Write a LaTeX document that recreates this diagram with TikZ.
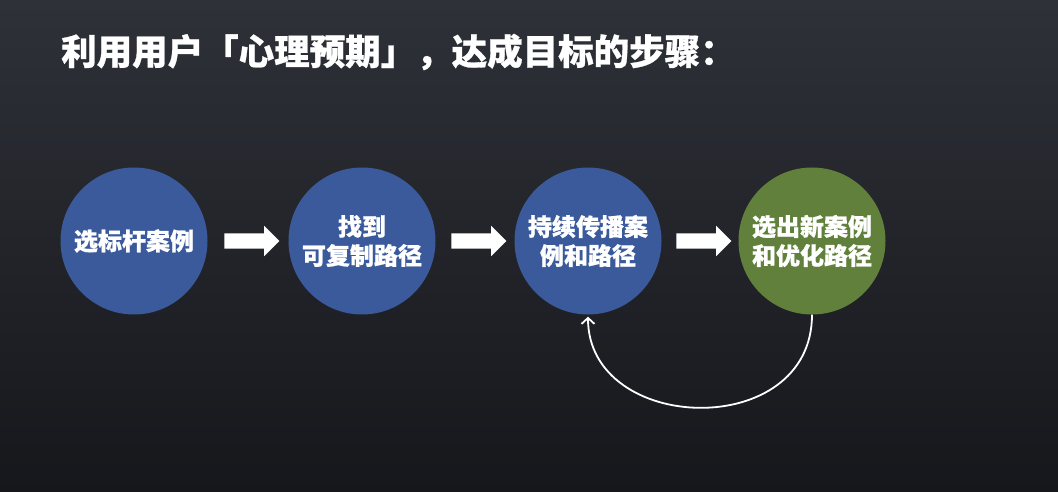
\documentclass[tikz,border=0pt]{standalone}
\usepackage{fontspec}
\newfontfamily\cjk{Noto Sans CJK SC}[BoldFeatures={FakeBold=0.8}]
\usetikzlibrary{shapes.arrows,arrows.meta,calc}
\definecolor{bgtop}{RGB}{46,49,56}
\definecolor{bgbot}{RGB}{22,23,27}
\definecolor{stepblue}{RGB}{58,90,155}
\definecolor{stepgreen}{RGB}{96,128,60}
\begin{document}
\begin{tikzpicture}[x=1pt,y=-1pt,
  stepcircle/.style={circle,minimum size=147pt,inner sep=0pt,text=white,
    font=\cjk\bfseries\fontsize{24}{29}\selectfont,align=center},
  blockarrow/.style={single arrow,fill=white,draw=none,minimum height=55pt,
    inner xsep=0pt,inner ysep=7.5pt,single arrow head extend=7.5pt},
  loopline/.style={draw=white,line width=1.8pt,-{Straight Barb[length=6pt,width=13pt]}}]
\shade[top color=bgtop,bottom color=bgbot] (0,0) rectangle (1058,492);
\useasboundingbox (0,0) rectangle (1058,492);
\node[anchor=west,text=white,inner sep=0pt,font=\cjk\bfseries\fontsize{35.5}{40}\selectfont] (title) at (61,52) {利用用户「心理预期」，达成目标的步骤：};
\node[stepcircle,fill=stepblue] (c1) at (134,241) {选标杆案例};
\node[stepcircle,fill=stepblue] (c2) at (362,241) {找到\\可复制路径};
\node[stepcircle,fill=stepblue] (c3) at (588,241) {持续传播案\\例和路径};
\node[stepcircle,fill=stepgreen] (c4) at (812,241) {选出新案例\\和优化路径};
\node[blockarrow] (a1) at ($(c1.east)!0.5!(c2.west)$) {};
\node[blockarrow] (a2) at ($(c2.east)!0.5!(c3.west)$) {};
\node[blockarrow] (a3) at ($(c3.east)!0.5!(c4.west)$) {};
\draw[loopline] (c4.south) .. controls ($(c4.south)+(0,127)$) and ($(c3.south)+(0,120)$) .. ($(c3.south)+(0,2)$);
\end{tikzpicture}
\end{document}
